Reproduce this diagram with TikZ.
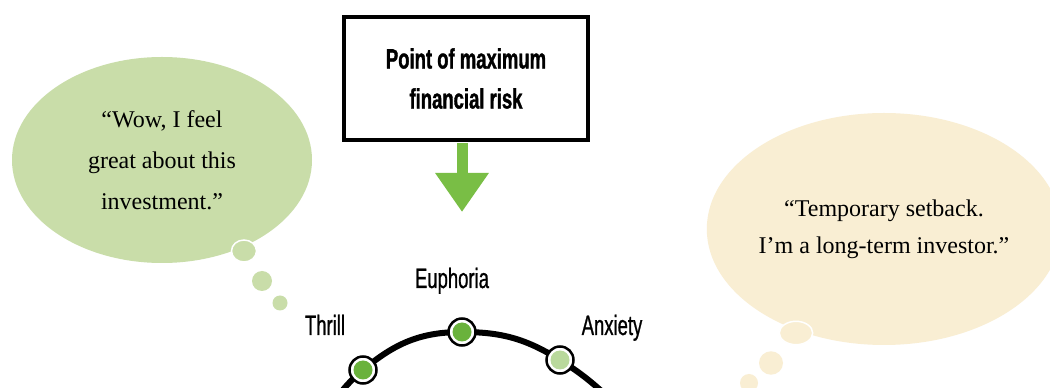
\documentclass[tikz,border=0pt]{standalone}
\usepackage{fontspec}
\setmainfont{Liberation Serif}
\newfontfamily\condfont[FakeStretch=0.66, BoldFeatures={FakeBold=1.2}]{Liberation Sans}
\newfontfamily\labelfont[FakeStretch=0.66, FakeBold=0.8]{Liberation Sans}
\usetikzlibrary{arrows.meta,shapes.geometric}
\pgfdeclarelayer{background}
\pgfsetlayers{background,main}
\definecolor{bubblegreen}{HTML}{C9DDA9}
\definecolor{bubbleyellow}{HTML}{F9EED3}
\definecolor{arrowgreen}{HTML}{79BE45}
\definecolor{dotgreen}{HTML}{6AB23C}
\definecolor{dotlight}{HTML}{B9D99C}
\begin{document}
\begin{tikzpicture}[x=1pt,y=1pt,
  bubble/.style={ellipse, inner sep=0pt, align=center},
  puff/.style={draw=white, line width=1.5pt},
  riskbox/.style={draw=black, line width=3.5pt, fill=white, minimum width=244pt,
    minimum height=123pt, align=center, inner sep=0pt,
    font=\condfont\bfseries\fontsize{28}{40}\selectfont},
  stage/.style={anchor=base, inner sep=0pt, font=\labelfont\fontsize{28}{30}\selectfont},
  dot/.style={circle, draw=black, line width=2.5pt, fill=white, minimum size=27pt,
    inner sep=0pt, path picture={\fill[#1] (path picture bounding box.center) circle (9.5pt);}},
  curveline/.style={line width=6pt, black},
  bigarrow/.style={arrowgreen, line width=11pt, -{Triangle[width=51pt,length=39pt]}}
]
\useasboundingbox (0,0) rectangle (1050,388);
\clip (0,0) rectangle (1050,388);
\begin{pgfonlayer}{background}
\fill[white] (0,0) rectangle (1050,388);
\end{pgfonlayer}

% left thought bubble
\node[bubble, fill=bubblegreen, minimum width=300pt, minimum height=206pt,
  font=\fontsize{24}{41}\selectfont] (wow) at (162,228)
  {“Wow, I feel\\great about this\\investment.”};
\fill[bubblegreen, puff] (244,137) ellipse (12.5 and 11);
\fill[bubblegreen] (262,107) circle (10);
\fill[bubblegreen] (280,85) circle (7.5);

% right thought bubble
\node[bubble, fill=bubbleyellow, minimum width=344pt, minimum height=232pt,
  font=\fontsize{24}{37}\selectfont] (setback) at (884,159)
  {“Temporary setback.\\I'm a long-term investor.”};
\fill[bubbleyellow, puff] (796,55) ellipse (16.7 and 11.7);
\fill[bubbleyellow] (771,25) ellipse (12 and 11.7);
\fill[bubbleyellow] (749,5) circle (9);

% box and arrow
\node[riskbox] (risk) at (466,309.5) {Point of maximum\\financial risk};
\coordinate (tip) at (462,176);
\draw[bigarrow, shorten <=1.75pt] (risk.south -| tip) -- (tip);

% curve stages
\coordinate (L) at (338,-8);
\coordinate (R) at (607,-8);
\node[dot=dotgreen] (thrill) at (363,18) {};
\node[dot=dotgreen] (euphoria) at (462,56) {};
\node[dot=dotlight] (anxiety) at (560,28) {};
\begin{pgfonlayer}{background}
\draw[curveline] (L) to[out=52,in=220] (thrill.center)
  to[out=40,in=180] (euphoria.center)
  to[out=0,in=148] (anxiety.center)
  to[out=-32,in=138] (R);
\end{pgfonlayer}

\node[stage] (thrilltext) at (325,53) {Thrill};
\node[stage] (euphoriatext) at (452,100) {Euphoria};
\node[stage] (anxietytext) at (612,53) {Anxiety};
\end{tikzpicture}
\end{document}
